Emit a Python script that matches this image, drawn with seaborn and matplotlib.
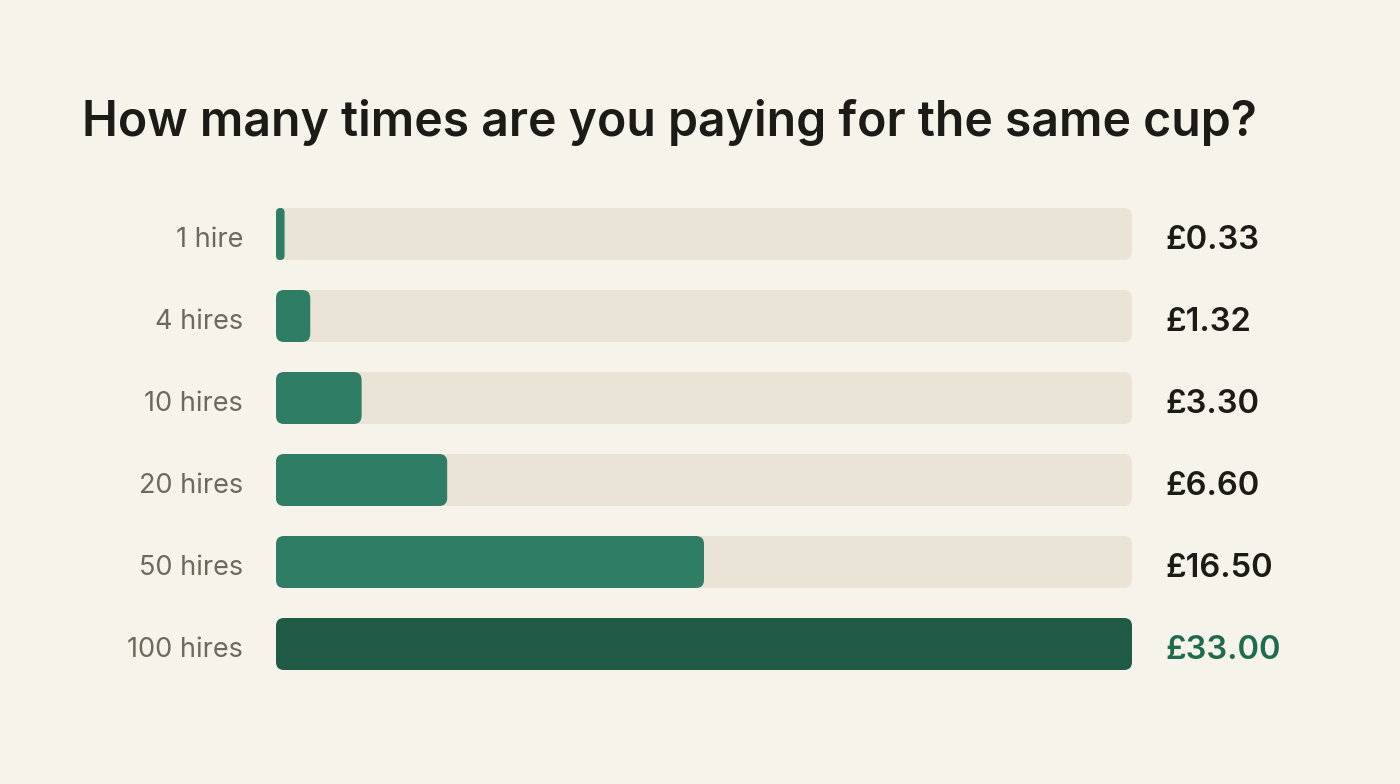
import matplotlib
matplotlib.use("Agg")
import matplotlib.pyplot as plt
import seaborn as sns
import pandas as pd
from matplotlib.patches import FancyBboxPatch

# data
labels = ["1 hire", "4 hires", "10 hires", "20 hires", "50 hires", "100 hires"]
costs = [0.33, 1.32, 3.30, 6.60, 16.50, 33.00]
cost_text = ["£0.33", "£1.32", "£3.30", "£6.60", "£16.50", "£33.00"]
track_max = [33.00] * 6

bg = "#F6F3EB"
track_col = "#EAE4D7"
green = "#2E7D64"
dark_green = "#1F5A47"
ink = "#1C1B17"
grey = "#6B6A5E"

sns.set_theme(style="white")
plt.rcParams["font.family"] = ["Inter", "DejaVu Sans"]

df = pd.DataFrame({"label": labels, "cost": costs, "track": track_max})

fig = plt.figure(figsize=(14, 7.84), dpi=100, facecolor=bg)
ax = fig.add_axes([276 / 1400, 1 - 685 / 784, 856 / 1400, 492 / 784])
ax.set_facecolor(bg)

bar_w = 52 / 82
sns.barplot(data=df, y="label", x="track", color=track_col, width=bar_w,
            orient="h", ax=ax, saturation=1)
pal = [green] * 5 + [dark_green]
sns.barplot(data=df, y="label", x="cost", hue="label", palette=pal, width=bar_w,
            orient="h", ax=ax, saturation=1, legend=False)

ax.set_xlim(0, 33)
ax.set_ylim(5.5, -0.5)

# swap rectangles for rounded ones
px_x = 856 / 33.0
px_y = 82.0
r_px = 8
for p in list(ax.patches):
    x0, y0 = p.get_x(), p.get_y()
    w, h = p.get_width(), p.get_height()
    r = min(r_px / px_x, w / 2)
    fb = FancyBboxPatch((x0, y0), w, h,
                        boxstyle=f"round,pad=0,rounding_size={r}",
                        mutation_aspect=px_x / px_y,
                        facecolor=p.get_facecolor(), edgecolor="none",
                        zorder=p.get_zorder())
    p.remove()
    ax.add_patch(fb)

sns.despine(ax=ax, left=True, bottom=True)
ax.set_xticks([])
ax.set_yticks([])
ax.set_xlabel("")
ax.set_ylabel("")

dy = 3 / px_y
for i, (lab, txt) in enumerate(zip(labels, cost_text)):
    ax.text(-33 / px_x, i + dy, lab, ha="right", va="center_baseline",
            fontsize=19.5, color=grey)
    col = "#1F6B50" if i == len(labels) - 1 else ink
    ax.text(33 + 33 / px_x, i + dy, txt, ha="left", va="center_baseline",
            fontsize=23.5, color=col, fontweight="semibold")

fig.text(82 / 1400, 1 - 136 / 784, "How many times are you paying for the same cup?",
         ha="left", va="baseline", fontsize=34.7, fontweight="semibold", color=ink)

fig.savefig("out.png", dpi=100, facecolor=bg)
